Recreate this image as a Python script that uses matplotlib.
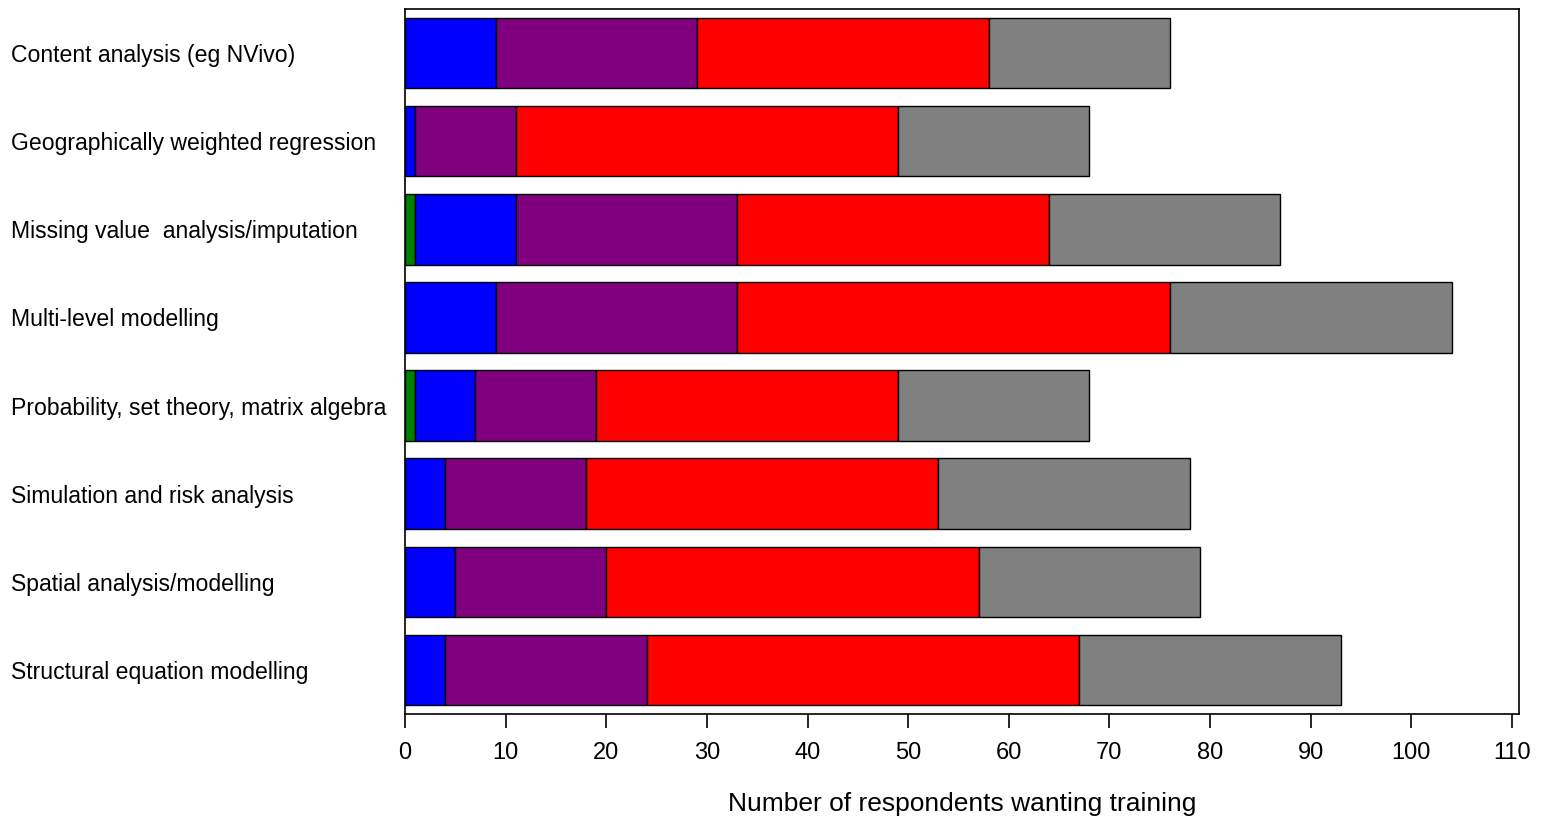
import numpy as np
import matplotlib.pyplot as plt

plt.rcParams['font.family'] = ['Liberation Sans', 'DejaVu Sans']

# Training topics (top to bottom)
topics = [
    "Content analysis (eg NVivo)",
    "Geographically weighted regression",
    "Missing value  analysis/imputation",
    "Multi-level modelling",
    "Probability, set theory, matrix algebra",
    "Simulation and risk analysis",
    "Spatial analysis/modelling",
    "Structural equation modelling",
]

# Stacked segments
green = [0, 0, 1, 0, 1, 0, 0, 0]
blue = [9, 1, 10, 9, 6, 4, 5, 4]
purple = [20, 10, 22, 24, 12, 14, 15, 20]
red = [29, 38, 31, 43, 30, 35, 37, 43]
grey = [18, 19, 23, 28, 19, 25, 22, 26]

segments = [
    (green, '#008000'),
    (blue, '#0000FF'),
    (purple, '#800080'),
    (red, '#FF0000'),
    (grey, '#808080'),
]

fig = plt.figure(figsize=(15.49, 8.21), dpi=100)
ax = fig.add_axes([0.2615, 0.1303, 0.7191, 0.8587])

y = np.arange(len(topics))
left = np.zeros(len(topics))
for vals, col in segments:
    vals = np.array(vals, dtype=float)
    ax.barh(y, vals, left=left, height=0.8, color=col,
            edgecolor='black', linewidth=1)
    left += vals

ax.set_ylim(len(topics) - 0.5, -0.5)
ax.set_xlim(0, 110.7)
ax.set_xticks(np.arange(0, 111, 10))
ax.tick_params(axis='x', direction='out', length=10, width=1.2,
               labelsize=17, pad=10)
ax.set_yticks(y)
ax.set_yticklabels(topics, ha='left')
ax.tick_params(axis='y', length=0, labelsize=16.6, pad=284)
ax.set_xlabel("Number of respondents wanting training", fontsize=19,
              labelpad=20)
for s in ax.spines.values():
    s.set_linewidth(1.2)

fig.savefig('out.png', dpi=100)
